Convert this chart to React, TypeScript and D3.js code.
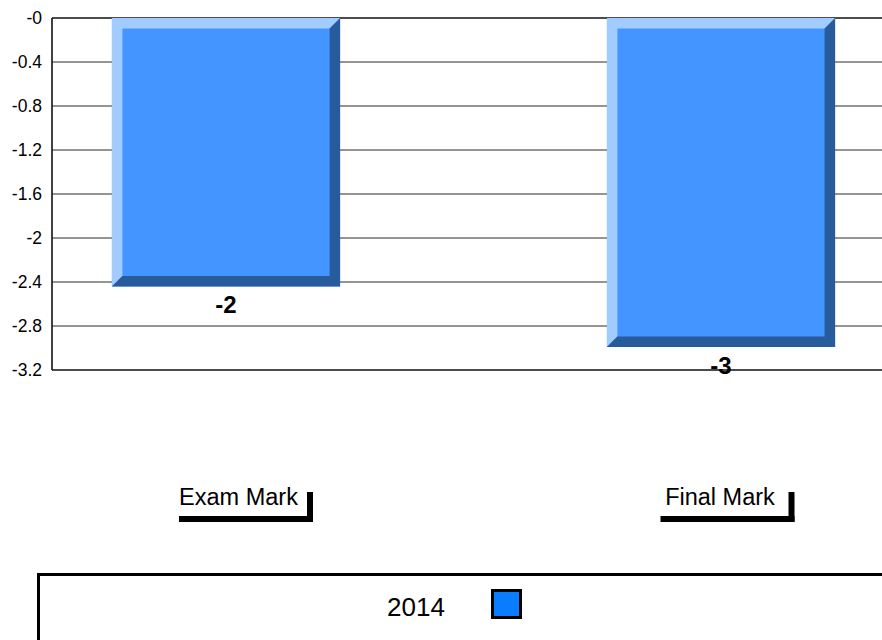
import React from "react";
import * as d3 from "d3";

const categories = ["Exam Mark", "Final Mark"];
const values2014 = [-2.44, -2.99];
const valueLabels = ["-2", "-3"];
const tickValues = [0, -0.4, -0.8, -1.2, -1.6, -2, -2.4, -2.8, -3.2];
const tickLabels = ["-0", "-0.4", "-0.8", "-1.2", "-1.6", "-2", "-2.4", "-2.8", "-3.2"];
const seriesName = "2014";

const W = 882;
const H = 640;
const FONT = "'Liberation Sans', Arial, sans-serif";

export default function App() {
  const plotLeft = 52;
  const plotRight = W;
  const y = d3.scaleLinear().domain([-3.2, 0]).range([370, 18]);
  const x = d3
    .scaleBand<string>()
    .domain(categories)
    .range([-21.5, 968.5])
    .paddingInner(0.539)
    .paddingOuter(0.2695);
  const labelX = d3.scalePoint<string>().domain(categories).range([243, 724.5]);
  const bw = x.bandwidth();
  const bev = 10.5;

  return (
    <div style={{ position: "fixed", left: 0, top: 0, width: W, height: H, background: "#fff" }}>
      <svg width={W} height={H} style={{ display: "block", fontFamily: FONT }}>
        {tickValues.map((t, i) => (
          <line
            key={"g" + i}
            x1={plotLeft}
            x2={plotRight}
            y1={y(t)}
            y2={y(t)}
            stroke={i === 0 || i === tickValues.length - 1 ? "#111" : "#2a2a2a"}
            strokeWidth={i === 0 || i === tickValues.length - 1 ? 1.6 : 1}
          />
        ))}
        <line x1={plotLeft} x2={plotLeft} y1={y(0)} y2={y(-3.2)} stroke="#111" strokeWidth={1.6} />
        {tickValues.map((t, i) => (
          <text
            key={"t" + i}
            x={plotLeft - 10}
            y={y(t)}
            dy="0.35em"
            textAnchor="end"
            fontSize={17.5}
            fill="#000"
          >
            {tickLabels[i]}
          </text>
        ))}
        {categories.map((c, i) => {
          const x0 = x(c)!;
          const x1 = x0 + bw;
          const y0 = y(0);
          const y1 = y(values2014[i]);
          return (
            <g key={"b" + i}>
              <rect x={x0} y={y0} width={bw} height={y1 - y0} fill="#4495FF" />
              <polygon
                points={`${x0},${y0} ${x1},${y0} ${x1 - bev},${y0 + bev} ${x0 + bev},${y0 + bev} ${x0 + bev},${y1 - bev} ${x0},${y1}`}
                fill="#A2CBFF"
              />
              <polygon
                points={`${x1},${y0} ${x1},${y1} ${x0},${y1} ${x0 + bev},${y1 - bev} ${x1 - bev},${y1 - bev} ${x1 - bev},${y0 + bev}`}
                fill="#285B9C"
              />
              <text
                x={x0 + bw / 2}
                y={y1 + 27}
                textAnchor="middle"
                fontSize={24}
                fontWeight="bold"
                fill="#000"
              >
                {valueLabels[i]}
              </text>
            </g>
          );
        })}
        {categories.map((c, i) => {
          const cx = labelX(c)!;
          const bwid = 128;
          const bx = cx - bwid / 2;
          const by = 486;
          const bh = 30;
          return (
            <g key={"l" + i}>
              <rect x={bx} y={by + bh} width={bwid + 6} height={6} fill="#000" />
              <rect x={bx + bwid} y={by + 6} width={6} height={bh} fill="#000" />
              <text x={cx - 4.5} y={by + 18.5} textAnchor="middle" fontSize={23.5} fill="#000">
                {c}
              </text>
            </g>
          );
        })}
        <rect x={38.5} y={574.5} width={900} height={200} fill="none" stroke="#000" strokeWidth={3} />
        <text x={387} y={616} fontSize={26} fill="#000">
          {seriesName}
        </text>
        <rect x={492.5} y={590.5} width={28} height={27} fill="#0A7DFF" stroke="#000" strokeWidth={3} />
      </svg>
    </div>
  );
}
